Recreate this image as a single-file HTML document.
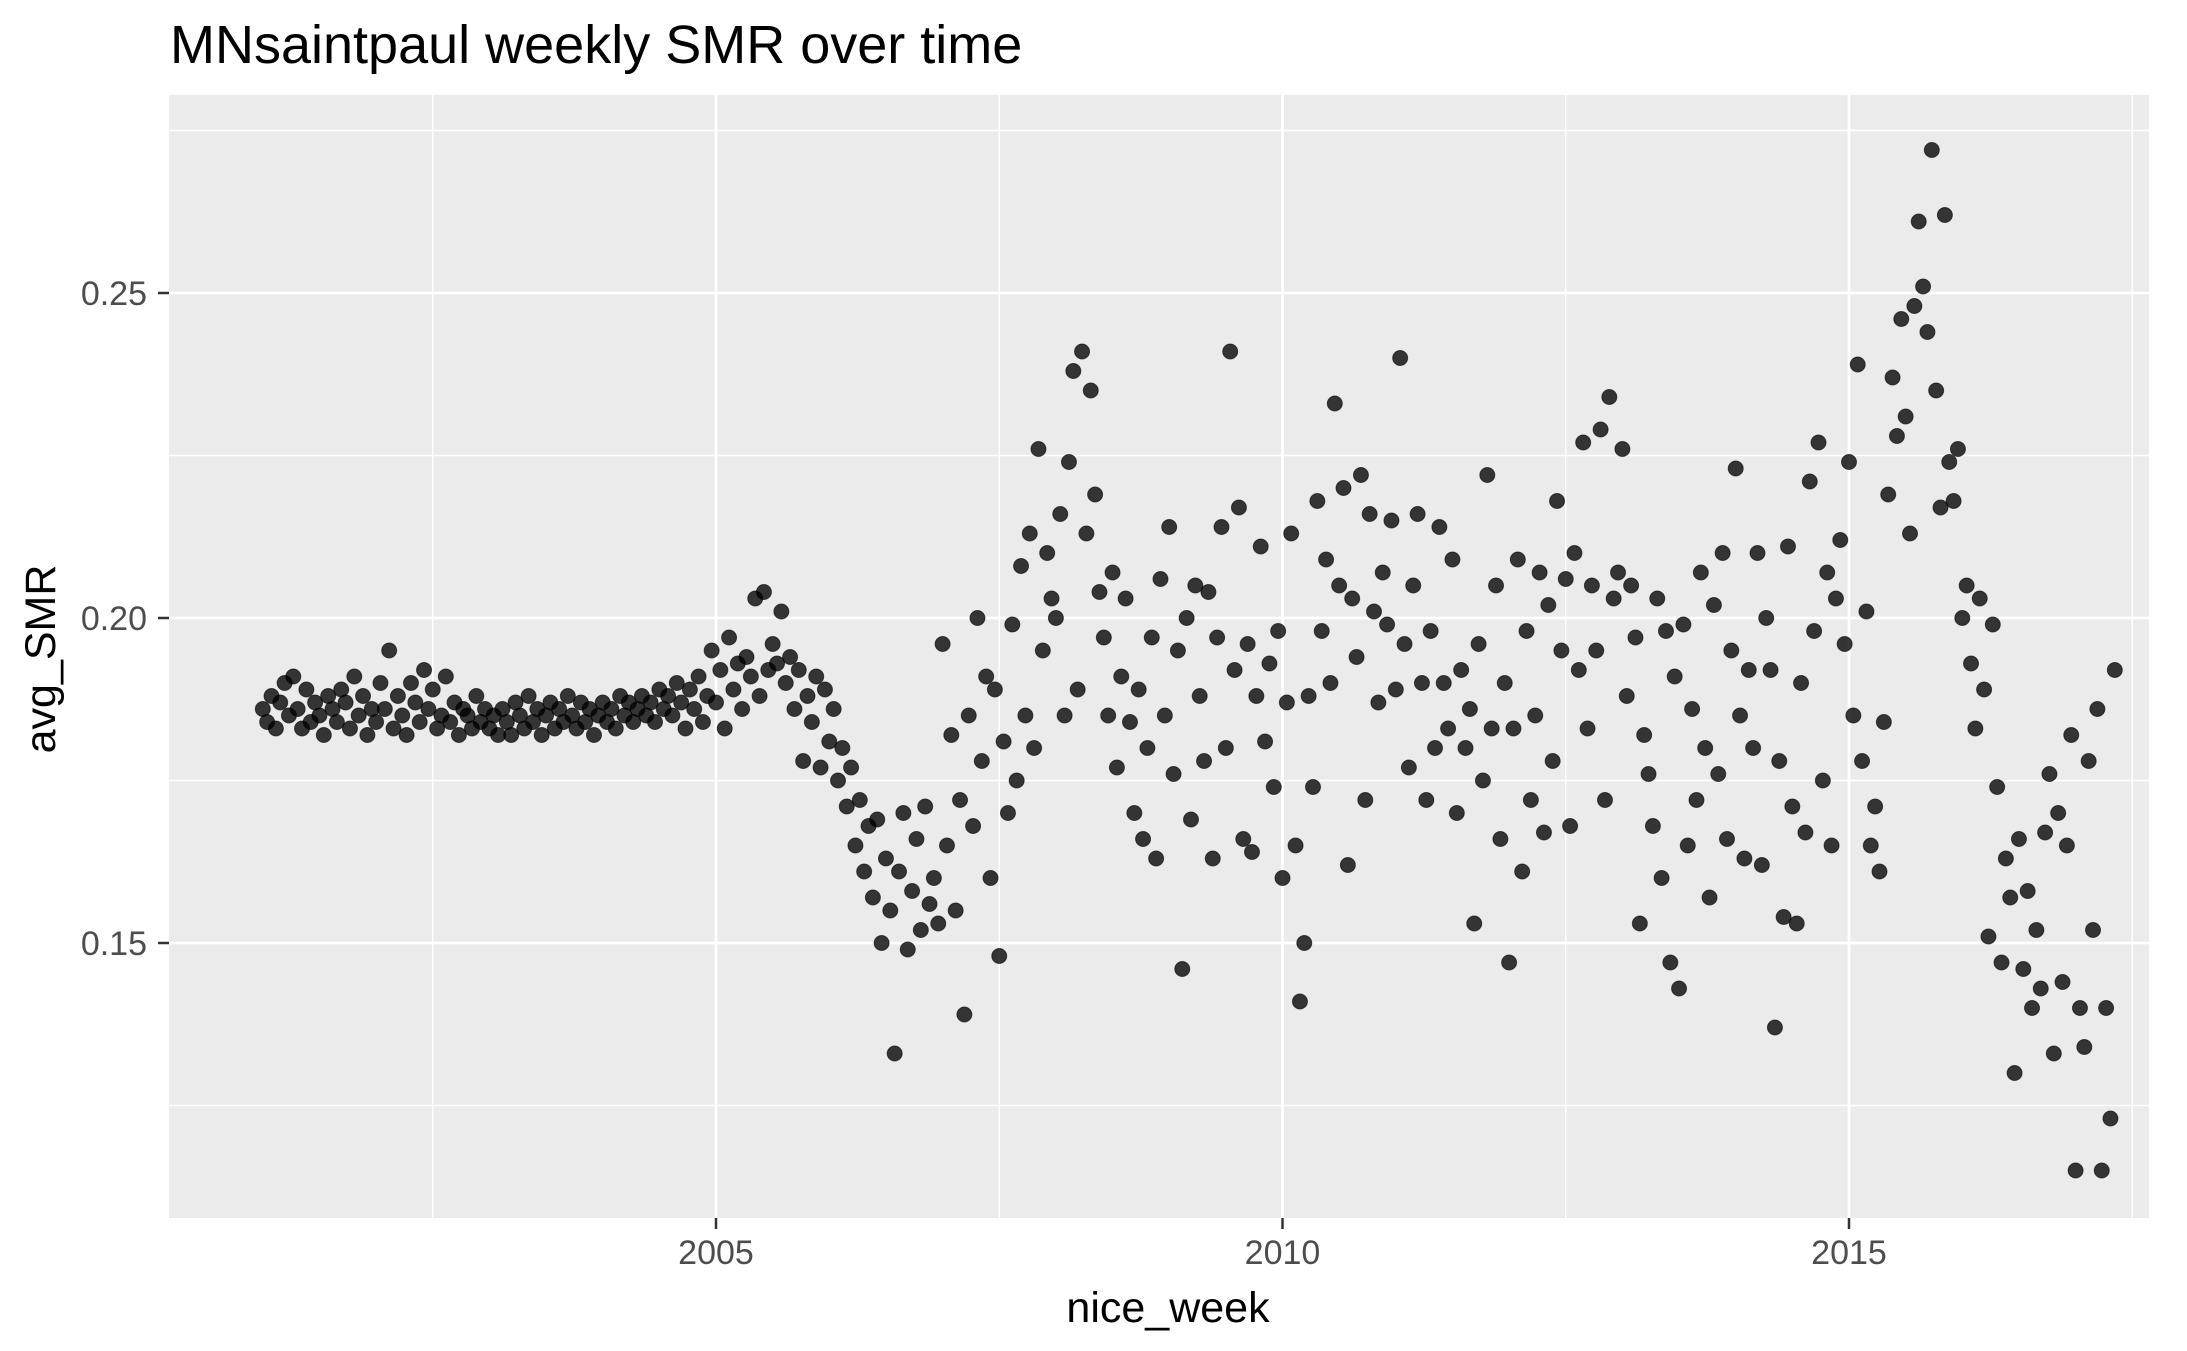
<!DOCTYPE html>
<html><head><meta charset="utf-8"><style>
html,body{margin:0;padding:0;background:#fff;}
svg{display:block;font-family:"Liberation Sans",Arial,sans-serif;}
</style></head><body>
<svg id="chart" width="2187" height="1351" viewBox="0 0 2187 1351" xmlns="http://www.w3.org/2000/svg">
<rect x="0" y="0" width="2187" height="1351" fill="#fff"/>
<text x="170" y="63" font-size="54" fill="#000">MNsaintpaul weekly SMR over time</text>
<rect x="169" y="95" width="1980" height="1123" fill="#EBEBEB"/>
<g id="grid"></g>
<g id="points"></g>
<g id="axes"></g>
<text x="1168" y="1322" font-size="43" text-anchor="middle" fill="#000">nice_week</text>
<text transform="translate(55,659) rotate(-90)" font-size="43" text-anchor="middle" fill="#000">avg_SMR</text>
</svg>
<script>
const startYear = 2001.0;
const weekStep = 1/26;
const smrValues = [
0.186,0.184,0.188,0.183,0.187,0.190,0.185,0.191,0.186,0.183,0.189,0.184,0.187,0.185,0.182,0.188,0.186,0.184,0.189,0.187,0.183,0.191,0.185,0.188,0.182,0.186,
0.184,0.190,0.186,0.195,0.183,0.188,0.185,0.182,0.190,0.187,0.184,0.192,0.186,0.189,0.183,0.185,0.191,0.184,0.187,0.182,0.186,0.185,0.183,0.188,0.184,0.186,
0.183,0.185,0.182,0.186,0.184,0.182,0.187,0.185,0.183,0.188,0.184,0.186,0.182,0.185,0.187,0.183,0.186,0.184,0.188,0.185,0.183,0.187,0.184,0.186,0.182,0.185,
0.187,0.184,0.186,0.183,0.188,0.185,0.187,0.184,0.186,0.188,0.185,0.187,0.184,0.189,0.186,0.188,0.185,0.190,0.187,0.183,0.189,0.186,0.191,0.184,0.188,0.195,
0.187,0.192,0.183,0.197,0.189,0.193,0.186,0.194,0.191,0.203,0.188,0.204,0.192,0.196,0.193,0.201,0.190,0.194,0.186,0.192,0.178,0.188,0.184,0.191,0.177,0.189,
0.181,0.186,0.175,0.180,0.171,0.177,0.165,0.172,0.161,0.168,0.157,0.169,0.150,0.163,0.155,0.133,0.161,0.170,0.149,0.158,0.166,0.152,0.171,0.156,0.160,0.153,
0.196,0.165,0.182,0.155,0.172,0.139,0.185,0.168,0.200,0.178,0.191,0.160,0.189,0.148,0.181,0.170,0.199,0.175,0.208,0.185,0.213,0.180,0.226,0.195,0.210,0.203,
0.200,0.216,0.185,0.224,0.238,0.189,0.241,0.213,0.235,0.219,0.204,0.197,0.185,0.207,0.177,0.191,0.203,0.184,0.170,0.189,0.166,0.180,0.197,0.163,0.206,0.185,
0.214,0.176,0.195,0.146,0.200,0.169,0.205,0.188,0.178,0.204,0.163,0.197,0.214,0.180,0.241,0.192,0.217,0.166,0.196,0.164,0.188,0.211,0.181,0.193,0.174,0.198,
0.160,0.187,0.213,0.165,0.141,0.150,0.188,0.174,0.218,0.198,0.209,0.190,0.233,0.205,0.220,0.162,0.203,0.194,0.222,0.172,0.216,0.201,0.187,0.207,0.199,0.215,
0.189,0.240,0.196,0.177,0.205,0.216,0.190,0.172,0.198,0.180,0.214,0.190,0.183,0.209,0.170,0.192,0.180,0.186,0.153,0.196,0.175,0.222,0.183,0.205,0.166,0.190,
0.147,0.183,0.209,0.161,0.198,0.172,0.185,0.207,0.167,0.202,0.178,0.218,0.195,0.206,0.168,0.210,0.192,0.227,0.183,0.205,0.195,0.229,0.172,0.234,0.203,0.207,
0.226,0.188,0.205,0.197,0.153,0.182,0.176,0.168,0.203,0.160,0.198,0.147,0.191,0.143,0.199,0.165,0.186,0.172,0.207,0.180,0.157,0.202,0.176,0.210,0.166,0.195,
0.223,0.185,0.163,0.192,0.180,0.210,0.162,0.200,0.192,0.137,0.178,0.154,0.211,0.171,0.153,0.190,0.167,0.221,0.198,0.227,0.175,0.207,0.165,0.203,0.212,0.196,
0.224,0.185,0.239,0.178,0.201,0.165,0.171,0.161,0.184,0.219,0.237,0.228,0.246,0.231,0.213,0.248,0.261,0.251,0.244,0.272,0.235,0.217,0.262,0.224,0.218,0.226,
0.200,0.205,0.193,0.183,0.203,0.189,0.151,0.199,0.174,0.147,0.163,0.157,0.130,0.166,0.146,0.158,0.140,0.152,0.143,0.167,0.176,0.133,0.170,0.144,0.165,0.182,
0.115,0.140,0.134,0.178,0.152,0.186,0.115,0.140,0.123,0.192
];
const xTicks = [2005, 2010, 2015];
const xMinor = [2002.5, 2007.5, 2012.5, 2017.5];
const yTicks = [0.15, 0.20, 0.25];
const yTickLabels = ["0.15", "0.20", "0.25"];
const yMinor = [0.125, 0.175, 0.225, 0.275];

const NS = "http://www.w3.org/2000/svg";
const PX0 = 169, PX1 = 2149, PY0 = 95, PY1 = 1218;
function xScale(yr){ return 716 + (yr - 2005) * 113.3; }
function yScale(v){ return 618 - (v - 0.2) * 6500; }
function mk(tag, attrs, parent){ const e = document.createElementNS(NS, tag); for (const k in attrs) e.setAttribute(k, attrs[k]); parent.appendChild(e); return e; }

const grid = document.getElementById('grid');
yMinor.forEach(v => {
  const l = mk('line', {x1:PX0, x2:PX1, y1:yScale(v), y2:yScale(v), stroke:'#fff', 'stroke-width':1.4}, grid);
  
  
});
xMinor.forEach(v => {
  const l = mk('line', {x1:xScale(v), x2:xScale(v), y1:PY0, y2:PY1, stroke:'#fff', 'stroke-width':1.4}, grid);
  
  
});
yTicks.forEach(v => {
  const l = mk('line', {x1:PX0, x2:PX1, y1:yScale(v), y2:yScale(v), stroke:'#fff', 'stroke-width':2.8}, grid);
  
  
});
xTicks.forEach(v => {
  const l = mk('line', {x1:xScale(v), x2:xScale(v), y1:PY0, y2:PY1, stroke:'#fff', 'stroke-width':2.8}, grid);
  
  
});

const pts = document.getElementById('points');
smrValues.forEach((v, i) => {
  const c = mk('circle', {cx:xScale(startYear + i * weekStep), cy:yScale(v), r:7.5, fill:'#000', 'fill-opacity':0.78, stroke:'#000', 'stroke-opacity':0.6, 'stroke-width':1}, pts);
  
  
});

const axes = document.getElementById('axes');
yTicks.forEach((v, i) => {
  const t = mk('line', {x1:PX0-11, x2:PX0, y1:yScale(v), y2:yScale(v), stroke:'#333', 'stroke-width':2.5}, axes);
  
  
  const lb = mk('text', {x:PX0-22, y:yScale(v)+12, 'font-size':34, 'text-anchor':'end', fill:'#4D4D4D'}, axes);
  lb.textContent = yTickLabels[i];
  
  
});
xTicks.forEach(v => {
  const t = mk('line', {x1:xScale(v), x2:xScale(v), y1:PY1, y2:PY1+11, stroke:'#333', 'stroke-width':2.5}, axes);
  
  
  const lb = mk('text', {x:xScale(v), y:PY1+46, 'font-size':34, 'text-anchor':'middle', fill:'#4D4D4D'}, axes);
  lb.textContent = String(v);
  
  
});
</script>
</body></html>
